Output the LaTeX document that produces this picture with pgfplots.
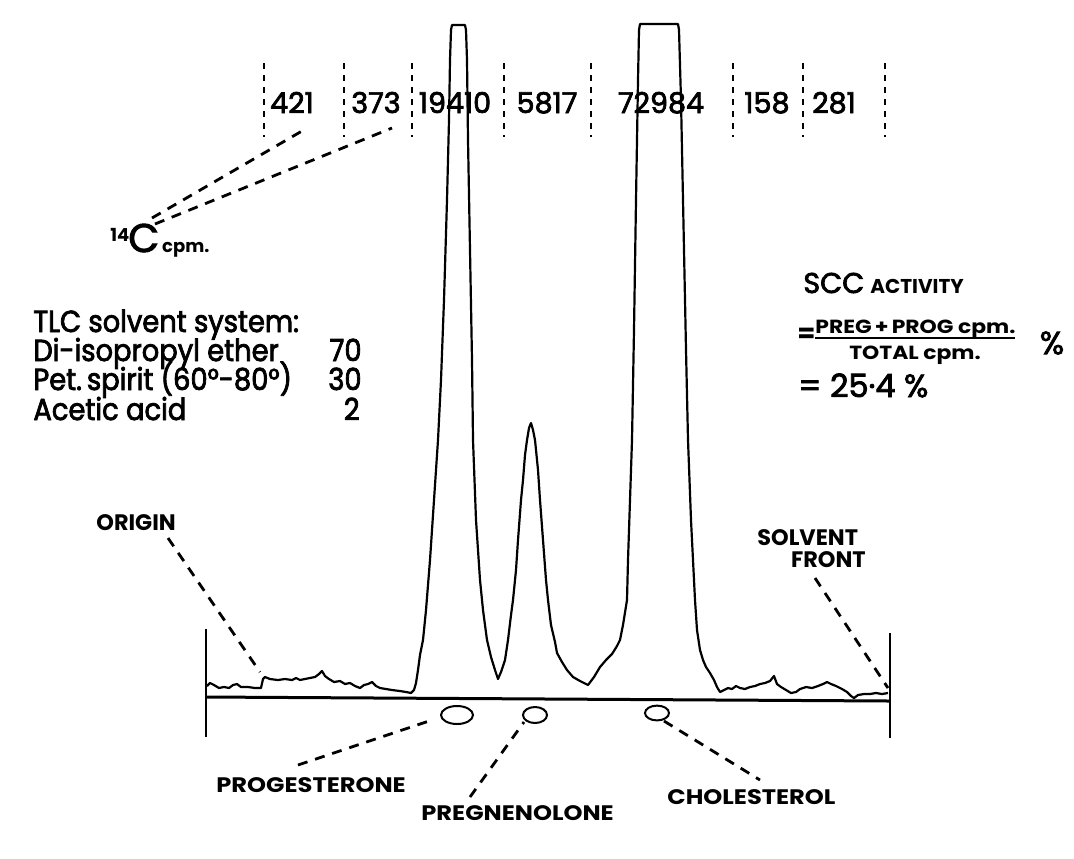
\documentclass[border=0pt]{standalone}
\usepackage{pgfplots}
\pgfplotsset{compat=1.18}
\usepackage{fontspec}
\setmainfont{Poppins}
\newfontfamily\medf[FakeBold=2.5]{Poppins}
\newfontfamily\narrowf[FakeStretch=0.9, FakeBold=2.5]{Poppins}
\newfontfamily\widef[FakeStretch=1.15]{Poppins}
\newcommand{\fs}[1]{\fontsize{#1}{#1}\selectfont}
\begin{document}
\begin{tikzpicture}
\begin{axis}[scale only axis, width=537pt, height=429pt,
  xmin=0, xmax=1074, ymin=0, ymax=858, y dir=reverse,
  hide axis, clip=false]
\path (axis cs:0,0) rectangle (axis cs:1074,858);
% radioactivity scan trace
\addplot[black, line width=1.1pt, line join=round, mark=none] coordinates {
(207,686) (210,683) (214,685) (219,688) (224,687) (229,688) (233,685) (237,684) (241,687) (248,687) (255,688) (261,688) (263,679) (265,677) (270,679) (278,680) (285,679) (292,680) (296,678) (300,680) (305,679) (310,678) (315,677) (319,674) (322,671) (325,676) (329,679) (334,682) (340,681) (345,684) (350,683) (355,686) (360,688) (364,685) (368,684) (372,682) (376,686) (380,688) (386,689) (392,690) (400,691) (406,692) (411,693) (414,690) (416,683) (418,670) (420,655) (423,640) (426,610) (430,560) (434,500) (438,440) (441,380) (444,300) (447,200) (449,120) (450,60) (451,30) (452,25) (465,25) (466,30) (467,60) (468,140) (470,250) (472,360) (473,440) (476,520) (480,580) (483,610) (487,640) (491,657) (495,670) (498,679) (501,672) (505,660) (508,640) (511,615) (513,600) (516,570) (518,540) (521,500) (523,480) (525,455) (527,440) (529,428) (531,423) (533,430) (535,440) (538,470) (540,500) (543,540) (546,580) (548,600) (551,625) (555,642) (557,653) (562,662) (567,670) (573,677) (580,681) (588,685) (594,677) (600,667) (606,660) (612,654) (617,646) (620,640) (623,625) (627,600) (628,560) (630,500) (632,440) (634,330) (636,200) (638,80) (639,30) (640,24) (678,24) (679,30) (681,100) (684,250) (686,350) (688,440) (691,520) (694,580) (695,600) (697,630) (700,650) (703,660) (706,667) (710,673) (714,680) (717,687) (720,692) (724,690) (728,688) (732,689) (736,686) (740,688) (745,689) (750,687) (755,686) (760,684) (765,683) (770,681) (774,676) (777,684) (781,687) (786,690) (791,693) (796,692) (800,689) (806,687) (812,688) (818,686) (823,684) (827,682) (831,684) (836,686) (842,689) (847,692) (851,696) (854,698) (858,695) (864,694) (870,694) (876,693) (882,694) (888,693)
};
% plate baseline and ends
\draw[line width=1.5pt] (axis cs:206,697) -- (axis cs:890,701);
\draw[line width=1.3pt] (axis cs:206,629) -- (axis cs:206,737);
\draw[line width=1.3pt] (axis cs:890,633) -- (axis cs:890,738);
% spots
\draw[line width=1pt] (axis cs:457,715) ellipse [x radius=8pt, y radius=4.5pt];
\draw[line width=1pt] (axis cs:535,715) ellipse [x radius=6pt, y radius=4pt];
\draw[line width=1pt] (axis cs:657,713) ellipse [x radius=6pt, y radius=3.7pt];
% zone dividers
\foreach \xx in {264,344,412,504,591,733,803,885}{
  \edef\temp{\noexpand\draw[line width=0.9pt, dash pattern=on 3pt off 3pt] (axis cs:\xx,63) -- (axis cs:\xx,137);}\temp
}
% counts per zone
\foreach \xx/\lab in {292/421,376/373,455/19410,547/5817,661/72984,767/158,834/281}{
  \edef\temp{\noexpand\node[anchor=base, inner sep=0pt, font=\noexpand\medf\noexpand\fs{14.3pt}] at (axis cs:\xx,113) {\lab};}\temp
}
% leaders
\tikzset{lead/.style={line width=1.4pt, dash pattern=on 5pt off 4pt}}
\draw[lead] (axis cs:152,218) -- (axis cs:302,131);
\draw[lead] (axis cs:155,224) -- (axis cs:392,128);
\draw[lead] (axis cs:168,538) -- (axis cs:260,672);
\draw[lead] (axis cs:815,578) -- (axis cs:888,688);
\draw[lead] (axis cs:298,765) -- (axis cs:432,720);
\draw[lead] (axis cs:470,797) -- (axis cs:524,722);
\draw[lead] (axis cs:664,721) -- (axis cs:760,780);
% 14C cpm
\node[anchor=base west, inner sep=0pt] at (axis cs:110,252) {\raisebox{5.5pt}{\fs{9pt}\bfseries 14}\hspace{-0.5pt}{\medf\fs{20pt}C}\hspace{1.5pt}{\fs{9pt}\bfseries cpm.}};
% TLC block
\tikzset{tlc/.style={inner sep=0pt, font=\narrowf\fs{15.2pt}}}
\node[tlc, anchor=base west] at (axis cs:33,332) {TLC solvent system:};
\node[tlc, anchor=base west] at (axis cs:33,361) {Di-isopropyl ether};
\node[tlc, anchor=base west] at (axis cs:33,390) {Pet.\,spirit (60°-80°)};
\node[tlc, anchor=base west] at (axis cs:33,420) {Acetic acid};
\node[tlc, anchor=base east] at (axis cs:362,361) {70};
\node[tlc, anchor=base east] at (axis cs:362,390) {30};
\node[tlc, anchor=base east] at (axis cs:360,420) {2};
% SCC activity
\node[anchor=base west, inner sep=0pt] at (axis cs:803,293) {{\medf\fs{14.3pt}SCC}\hspace{3pt}{\fs{10pt}\bfseries ACTIVITY}};
\node[anchor=base west, inner sep=0pt, font=\fs{13pt}\bfseries] at (axis cs:797,342) {=};
\node[anchor=base west, inner sep=0pt, font=\widef\fs{9.5pt}\bfseries] at (axis cs:815,333) {PREG\,+\,PROG cpm.};
\draw[line width=1pt] (axis cs:815,338) -- (axis cs:1015,338);
\node[anchor=base, inner sep=0pt, font=\widef\fs{9.5pt}\bfseries] at (axis cs:915,359) {TOTAL cpm.};
\node[anchor=center, inner sep=0pt, font=\medf\fs{16pt}] at (axis cs:1052,343) {\%};
\node[anchor=base west, inner sep=0pt, font=\medf\fs{16pt}] at (axis cs:798,397) {= 25·4 \%};
% labels
\tikzset{lab/.style={inner sep=0pt, font=\fs{11.2pt}\bfseries}}
\node[lab, anchor=base west] at (axis cs:96,530) {ORIGIN};
\node[lab, anchor=base west] at (axis cs:757,545) {SOLVENT};
\node[lab, anchor=base east] at (axis cs:866,567) {FRONT};
\tikzset{slab/.style={inner sep=0pt, font=\widef\fs{10.5pt}\bfseries}}
\node[slab, anchor=base west] at (axis cs:216,792) {PROGESTERONE};
\node[slab, anchor=base west] at (axis cs:421,820) {PREGNENOLONE};
\node[slab, anchor=base west] at (axis cs:667,804) {CHOLESTEROL};
\end{axis}
\end{tikzpicture}
\end{document}
